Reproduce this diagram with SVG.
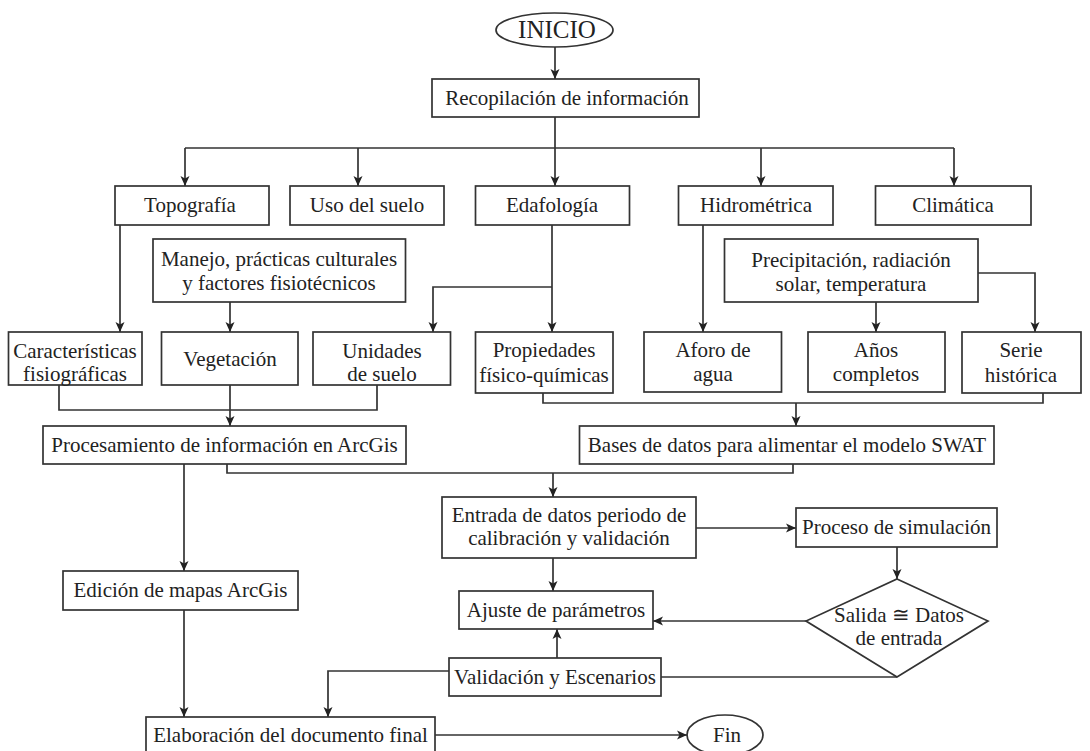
<svg xmlns="http://www.w3.org/2000/svg" width="1090" height="751" viewBox="0 0 1090 751">
<style>
.n rect,.n ellipse,.n polygon{fill:#fff;stroke:#333;stroke-width:1.7}
text{font-family:"Liberation Serif","Times New Roman",serif;font-size:21px;fill:#222;text-anchor:middle}
#edges path{fill:none;stroke:#333;stroke-width:1.7}
</style>
<defs>
<marker id="ah" viewBox="0 0 10 10" refX="10" refY="5" markerWidth="10" markerHeight="10" markerUnits="userSpaceOnUse" orient="auto"><path d="M0,0.5 L10,5 L0,9.5 L2.5,5 z" fill="#222"/></marker>
</defs>
<rect width="1090" height="751" fill="#fff"/>
<g id="edges">
<path d="M555,47 V79" marker-end="url(#ah)"/>
<path d="M555,117 V148 M185,148 H954"/>
<path d="M185,148 V186" marker-end="url(#ah)"/>
<path d="M358,148 V186" marker-end="url(#ah)"/>
<path d="M555,148 V186" marker-end="url(#ah)"/>
<path d="M761,148 V186" marker-end="url(#ah)"/>
<path d="M954,148 V186" marker-end="url(#ah)"/>
<path d="M120,225 V332" marker-end="url(#ah)"/>
<path d="M230,302 V332" marker-end="url(#ah)"/>
<path d="M552,225 V332" marker-end="url(#ah)"/>
<path d="M552,287 H433 V332" marker-end="url(#ah)"/>
<path d="M703,225 V332" marker-end="url(#ah)"/>
<path d="M876,302 V332" marker-end="url(#ah)"/>
<path d="M978,273 H1035 V332" marker-end="url(#ah)"/>
<path d="M59,385 V410 H377 V385"/>
<path d="M230,385 V426" marker-end="url(#ah)"/>
<path d="M543,393 V403 H1043 V393"/>
<path d="M796,403 V426" marker-end="url(#ah)"/>
<path d="M184,464 V571" marker-end="url(#ah)"/>
<path d="M227,464 V473 H793 V464"/>
<path d="M553,473 V497" marker-end="url(#ah)"/>
<path d="M184,610 V717" marker-end="url(#ah)"/>
<path d="M696,528 H796" marker-end="url(#ah)"/>
<path d="M553,558 V591" marker-end="url(#ah)"/>
<path d="M897,547 V579" marker-end="url(#ah)"/>
<path d="M806,621 H653" marker-end="url(#ah)"/>
<path d="M897,677 H661"/>
<path d="M557,658 V629" marker-end="url(#ah)"/>
<path d="M449,671 H328 V717" marker-end="url(#ah)"/>
<path d="M435,735 H687" marker-end="url(#ah)"/>
</g>
<g id="inicio" class="n"><ellipse cx="554.5" cy="30" rx="58.5" ry="17"/><text x="557" y="38" style="font-size:25px">INICIO</text></g>
<g id="recopilacion" class="n"><rect x="432" y="79" width="267" height="38"/><text x="567" y="105">Recopilación de información</text></g>
<g id="topografia" class="n"><rect x="115" y="186" width="154" height="39"/><text x="190" y="212">Topografía</text></g>
<g id="uso" class="n"><rect x="290" y="186" width="154" height="39"/><text x="367" y="212">Uso del suelo</text></g>
<g id="edafologia" class="n"><rect x="475.5" y="186" width="154" height="39"/><text x="552" y="212">Edafología</text></g>
<g id="hidrometrica" class="n"><rect x="678.5" y="186" width="154.5" height="39"/><text x="756" y="212">Hidrométrica</text></g>
<g id="climatica" class="n"><rect x="875.5" y="186" width="155.5" height="39"/><text x="953" y="212">Climática</text></g>
<g id="manejo" class="n"><rect x="153" y="239" width="252.5" height="63"/><text x="279" y="266">Manejo, prácticas culturales</text><text x="279" y="290">y factores fisiotécnicos</text></g>
<g id="precipitacion" class="n"><rect x="724.5" y="239" width="253.5" height="63"/><text x="851" y="267">Precipitación, radiación</text><text x="851" y="291">solar, temperatura</text></g>
<g id="caracteristicas" class="n"><rect x="8.5" y="332" width="133.5" height="53"/><text x="75" y="358">Características</text><text x="75" y="381">fisiográficas</text></g>
<g id="vegetacion" class="n"><rect x="161.5" y="332" width="136.5" height="53"/><text x="230" y="366">Vegetación</text></g>
<g id="unidades" class="n"><rect x="313" y="332" width="137.5" height="53"/><text x="382" y="358">Unidades</text><text x="382" y="381">de suelo</text></g>
<g id="propiedades" class="n"><rect x="475.5" y="332" width="137.5" height="61"/><text x="544" y="357">Propiedades</text><text x="544" y="382">físico-químicas</text></g>
<g id="aforo" class="n"><rect x="644" y="332" width="137.5" height="60"/><text x="713" y="357">Aforo de</text><text x="713" y="381">agua</text></g>
<g id="anos" class="n"><rect x="808" y="332" width="137" height="60"/><text x="876" y="357">Años</text><text x="876" y="381">completos</text></g>
<g id="serie" class="n"><rect x="962" y="332" width="119" height="61"/><text x="1021" y="357">Serie</text><text x="1021" y="382">histórica</text></g>
<g id="procesamiento" class="n"><rect x="43" y="426" width="363" height="38"/><text x="224.5" y="452">Procesamiento de información en ArcGis</text></g>
<g id="bases" class="n"><rect x="579.5" y="426" width="414.5" height="38"/><text x="787" y="452">Bases de datos para alimentar el modelo SWAT</text></g>
<g id="entrada" class="n"><rect x="442" y="497" width="254" height="61"/><text x="569" y="522">Entrada de datos periodo de</text><text x="569" y="545">calibración y validación</text></g>
<g id="proceso" class="n"><rect x="796" y="508" width="201" height="39"/><text x="896.5" y="534">Proceso de simulación</text></g>
<g id="edicion" class="n"><rect x="63" y="571" width="235" height="39"/><text x="180.5" y="597">Edición de mapas ArcGis</text></g>
<g id="ajuste" class="n"><rect x="459" y="591" width="194" height="38"/><text x="556" y="617">Ajuste de parámetros</text></g>
<g id="salida" class="n"><polygon points="897,579 988,621 897,677 806,621"/><text x="899" y="622">Salida ≅ Datos</text><text x="899" y="645">de entrada</text></g>
<g id="validacion" class="n"><rect x="449" y="658" width="212" height="38"/><text x="555" y="684">Validación y Escenarios</text></g>
<g id="elaboracion" class="n"><rect x="146" y="717" width="289" height="40"/><text x="290.5" y="742">Elaboración del documento final</text></g>
<g id="fin" class="n"><ellipse cx="725" cy="735" rx="38" ry="20"/><text x="727" y="742">Fin</text></g>
</svg>
